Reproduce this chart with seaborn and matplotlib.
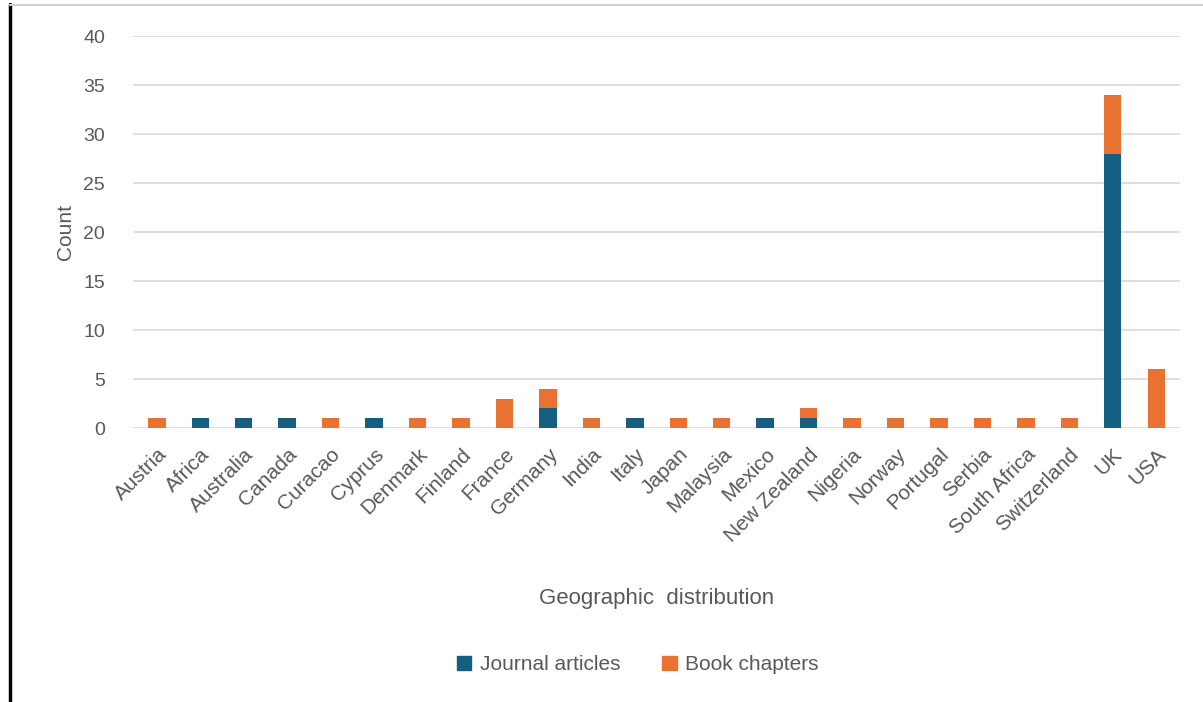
import matplotlib
matplotlib.use("Agg")
import matplotlib.pyplot as plt
import seaborn as sns
import pandas as pd
from matplotlib.lines import Line2D
from matplotlib.patches import Patch

countries = ["Austria", "Africa", "Australia", "Canada", "Curacao", "Cyprus",
             "Denmark", "Finland", "France", "Germany", "India", "Italy",
             "Japan", "Malaysia", "Mexico", "New Zealand", "Nigeria", "Norway",
             "Portugal", "Serbia", "South Africa", "Switzerland", "UK", "USA"]
journal_articles = [0, 1, 1, 1, 0, 1, 0, 0, 0, 2, 0, 1,
                    0, 0, 1, 1, 0, 0, 0, 0, 0, 0, 28, 0]
book_chapters = [1, 0, 0, 0, 1, 0, 1, 1, 3, 2, 1, 0,
                 1, 1, 0, 1, 1, 1, 1, 1, 1, 1, 6, 6]

blue = "#156082"
orange = "#E97132"
grey = "#595959"

df = pd.DataFrame({"country": countries,
                   "journal": journal_articles,
                   "book": book_chapters})
df["total"] = df["journal"] + df["book"]

sns.set_style("white")
plt.rcParams['font.family'] = ['Liberation Sans', 'DejaVu Sans']

fig = plt.figure(figsize=(12.03, 7.02), dpi=100)
ax = fig.add_axes([0.1105, 0.3903, 0.8705, 0.5584])

# stacked: total in orange, journal articles drawn over it in blue
sns.barplot(data=df, x="country", y="total", color=orange, width=0.4,
            saturation=1, linewidth=0, ax=ax, zorder=3)
sns.barplot(data=df, x="country", y="journal", color=blue, width=0.4,
            saturation=1, linewidth=0, ax=ax, zorder=4)

ax.set_ylim(0, 40)
ax.set_yticks(range(0, 41, 5))
ax.set_xlim(-0.55, len(countries) - 0.45)
ax.yaxis.grid(True, color="#d9d9d9", linewidth=1.2, zorder=0)
ax.set_axisbelow(True)
for s in ax.spines.values():
    s.set_visible(False)
ax.tick_params(axis="both", length=0, colors=grey)
ax.tick_params(axis="y", pad=20, labelsize=14)
ax.tick_params(axis="x", pad=12, labelsize=15)
plt.setp(ax.get_xticklabels(), rotation=45, ha="right", rotation_mode="anchor")

ax.set_xlabel("Geographic  distribution", color=grey, fontsize=16, labelpad=31)
ax.set_ylabel("Count", color=grey, fontsize=15, labelpad=6)

handles = [Patch(color=blue, label="Journal articles"),
           Patch(color=orange, label="Book chapters")]
fig.legend(handles=handles, loc="center", bbox_to_anchor=(0.53, 0.053), ncol=2,
           frameon=False, fontsize=15, labelcolor=grey, handlelength=0.7,
           handleheight=0.7, handletextpad=0.4, columnspacing=2.0)

# frame lines around the screenshot
fig.add_artist(Line2D([0.0085, 0.0085], [0, 0.995], color="black", linewidth=2.5))
fig.add_artist(Line2D([0.0085, 1], [0.993, 0.993], color="#d0d0d0", linewidth=1.5))

fig.savefig("out.png", dpi=100)
